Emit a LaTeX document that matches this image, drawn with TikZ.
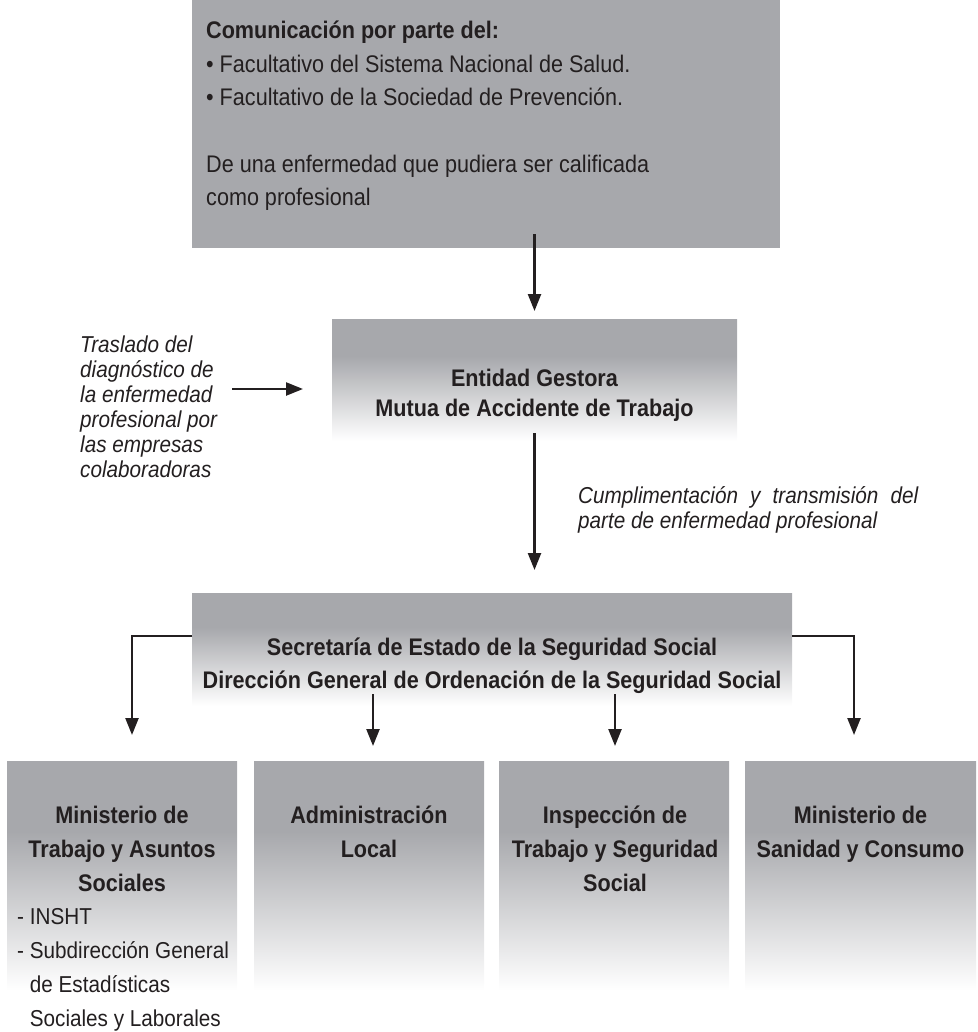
\documentclass[tikz,border=0pt]{standalone}
\usepackage{fontspec}
\setmainfont{Liberation Sans}[FakeStretch=0.9]
\usetikzlibrary{arrows.meta,fit}
\definecolor{boxgray}{RGB}{167,168,172}
\definecolor{ink}{RGB}{35,31,32}
% gray on top, fading to white at the bottom
\pgfdeclareverticalshading{boxfade}{100bp}{color(0bp)=(white); color(26bp)=(white); color(60bp)=(boxgray); color(100bp)=(boxgray)}

\begin{document}
\begin{tikzpicture}[x=1pt,y=-1pt,
    flat/.style={inner sep=0pt, outer sep=0pt, fill=boxgray},
    box/.style={inner sep=0pt, outer sep=0pt, shading=boxfade},
    head/.style={inner sep=0pt, text=ink, align=center, font=\bfseries\fontsize{24}{#1}\selectfont},
    head/.default=34,
    body/.style={inner sep=0pt, text=ink, align=left, font=\fontsize{24}{33.3}\selectfont},
    note/.style={inner sep=0pt, text=ink, align=left, font=\itshape\fontsize{23}{25}\selectfont},
    arr/.style={draw=ink, line width=2.4pt, -{Triangle[length=17pt,width=13pt]}}]
    \useasboundingbox (0,0) rectangle (977,1032);

    % boxes from top to down
    \node[flat, fit={(192,0) (780,248)}] (topbox) {};
    \node[box, fit={(332,319) (737,443)}] (midbox) {};
    \node[box, fit={(192,593) (792,708)}] (secbox) {};
    \node[box, fit={(7,761) (237,995)}] (minbox) {};
    \node[box, fit={(254,761) (484,995)}] (admbox) {};
    \node[box, fit={(499,761) (729,995)}] (insbox) {};
    \node[box, fit={(745,761) (976,995)}] (sanbox) {};

    % texts (base = baseline of the last line)
    \node[body, anchor=base west] (comtext) at (206,205.5) {\textbf{Comunicación por parte del:}\\• Facultativo del Sistema Nacional de Salud.\\• Facultativo de la Sociedad de Prevención.\\[33.3pt]De una enfermedad que pudiera ser calificada\\como profesional};
    \node[head=30, anchor=base] (midtext) at (534.5,416.5) {Entidad Gestora\\Mutua de Accidente de Trabajo};
    \node[note, anchor=base west] (traslado) at (80,477) {Traslado del\\diagnóstico de\\la enfermedad\\profesional por\\las empresas\\colaboradoras};
    \node[note, anchor=base west, text width=340pt, align=justify] (parte) at (578,503) {Cumplimentación y transmisión del parte de enfermedad profesional};
    \node[head=33, anchor=base] (sectext) at (492,688.5) {Secretaría de Estado de la Seguridad Social\\Dirección General de Ordenación de la Seguridad Social};
    \node[head, anchor=base] (mintext) at (122,891.5) {Ministerio de\\Trabajo y Asuntos\\Sociales};
    \node[body, anchor=base west, font=\fontsize{23}{34}\selectfont] (minlist) at (17,1026.5) {- INSHT\\- Subdirección General\\\phantom{- }de Estadísticas\\\phantom{- }Sociales y Laborales};
    \node[head, anchor=base] (admtext) at (369,857.5) {Administración\\Local};
    \node[head, anchor=base] (instext) at (615,891.5) {Inspección de\\Trabajo y Seguridad\\Social};
    \node[head, anchor=base] (santext) at (860.5,857.5) {Ministerio de\\Sanidad y Consumo};

    % arrows
    \draw[arr] (midbox.north |- 0,234) -- ([yshift=8pt]midbox.north);
    \coordinate (lin) at (232,389);
    \draw[arr, shorten >=29pt] (lin) -- (lin -| midbox.west);
    \draw[arr, shorten >=23pt] ([yshift=10pt]midbox.south) -- (midbox.south |- secbox.north);
    \coordinate (lk) at (132,636);
    \coordinate (rk) at (854,636);
    \draw[arr, shorten >=26pt] (secbox.west |- lk) -- (lk) -- (lk |- minbox.north);
    \draw[arr, shorten >=26pt] (secbox.east |- rk) -- (rk) -- (rk |- sanbox.north);
    \coordinate (ak) at (373,694);
    \coordinate (ik) at (615,694);
    \draw[arr, shorten >=15pt] (ak) -- (ak |- admbox.north);
    \draw[arr, shorten >=15pt] (ik) -- (ik |- insbox.north);
\end{tikzpicture}
\end{document}
